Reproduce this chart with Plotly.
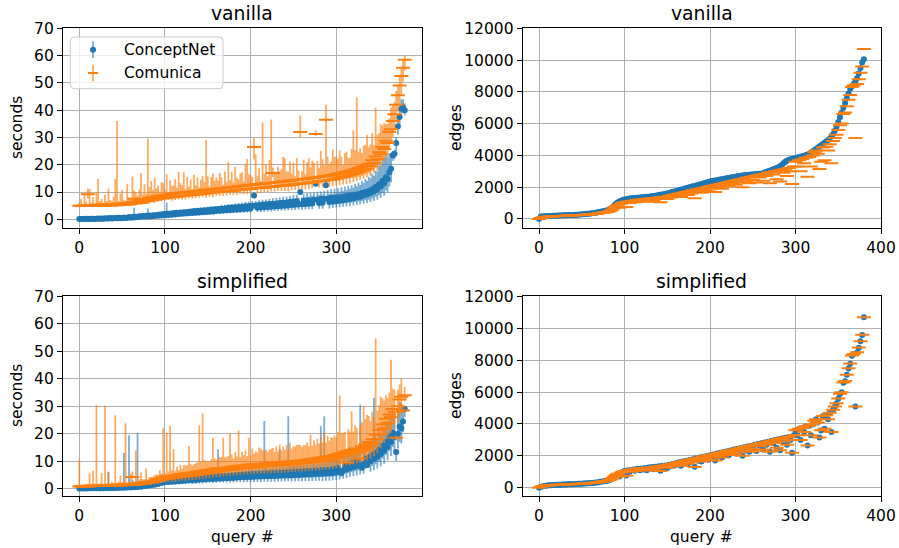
import plotly.graph_objects as go

# ---------------- data (query # on x, step 2) ----------------
QUERY = list(range(0, 381, 2))

# vanilla, ConceptNet, seconds (value, upper err, lower err)
VAN_CN_SEC = [
    0.1,0.1,0.1,0.2,0.1,0.2,0.1,0.2,0.2,0.1,
    0.2,0.3,0.2,0.3,0.2,0.4,0.3,0.3,0.5,0.3,
    0.4,0.5,0.4,0.6,0.4,0.5,0.7,0.5,0.6,0.8,
    0.6,0.8,0.7,0.9,0.8,1.1,0.9,1.2,1.0,1.3,
    1.0,1.4,1.1,1.5,1.2,1.6,1.3,1.8,1.4,1.9,
    1.5,2.0,1.6,2.1,1.7,2.3,1.8,2.4,1.9,2.5,
    2.0,2.6,2.1,2.7,2.2,2.9,2.3,3.0,2.4,3.1,
    2.5,3.2,2.6,3.3,2.7,3.4,2.8,3.6,2.9,3.7,
    3.0,3.8,3.1,3.9,3.2,4.0,3.3,4.2,3.4,4.3,
    3.5,4.4,3.6,4.5,3.7,4.6,3.8,4.8,3.9,4.9,
    4.0,5.0,8.7,5.1,4.2,5.2,4.3,5.4,4.4,5.5,
    4.5,5.6,4.6,5.7,4.7,5.8,4.8,6.0,4.9,6.1,
    5.0,6.2,5.1,6.3,5.2,6.4,5.3,6.6,5.4,10.0,
    5.5,6.8,5.6,6.9,5.7,7.0,5.8,7.2,13.0,7.3,
    6.0,7.4,6.1,7.5,12.5,7.6,6.3,7.8,6.4,7.9,
    6.6,8.0,6.8,8.2,7.0,8.4,7.2,8.6,7.4,8.8,
    7.7,9.0,8.0,9.3,8.3,9.6,8.7,10.0,9.1,10.4,
    9.6,11.0,10.2,11.8,11.0,12.8,12.0,14.0,13.2,15.4,
    14.8,17.2,18.5,23.5,24.0,28.0,34.0,37.5,40.5,41.0,
    40.0]
VAN_CN_SEC_HI = [
    0.2,0.3,0.2,0.2,0.3,0.2,0.2,0.3,0.2,0.2,
    0.3,0.2,0.3,0.2,0.3,0.3,0.2,0.3,0.3,0.2,
    0.3,0.3,0.3,0.4,0.3,0.3,0.4,0.3,0.4,0.3,
    0.4,0.5,3.5,0.4,0.5,0.4,0.5,0.6,0.5,0.5,
    3.0,0.5,0.6,0.5,0.6,0.7,0.6,0.6,0.7,0.6,
    0.7,4.2,0.7,0.8,0.7,0.8,0.8,0.7,0.8,0.9,
    0.8,0.9,0.8,0.9,1.0,0.9,0.9,1.0,1.0,0.9,
    1.0,1.0,1.1,1.0,1.1,1.2,1.0,1.1,1.2,1.1,
    1.2,1.1,1.2,1.3,1.2,1.3,1.2,1.3,1.4,1.3,
    1.4,1.3,1.4,1.5,1.4,1.5,1.6,1.5,1.6,1.5,
    1.6,1.7,0.6,1.6,1.7,1.8,1.7,1.8,1.9,1.8,
    1.9,1.8,1.9,2.0,1.9,2.0,2.1,2.0,2.1,2.2,
    2.1,2.2,2.3,2.2,2.3,2.4,2.3,2.4,2.5,0.8,
    2.5,2.6,2.5,2.7,2.6,2.7,2.8,2.7,1.5,2.8,
    2.9,2.8,3.0,2.9,1.2,3.1,3.0,3.2,3.0,3.3,
    3.2,3.4,3.3,3.5,3.4,3.6,3.5,3.7,3.8,3.7,
    3.9,4.0,4.1,4.2,4.3,4.5,4.6,4.8,5.0,5.2,
    5.4,5.6,5.8,6.0,6.5,7.0,7.5,8.0,9.5,8.5,
    8.0,7.0,5.0,1.5,1.5,2.0,3.0,3.5,3.5,3.0,
    2.5]
VAN_CN_SEC_LO = [
    0.1,0.1,0.1,0.1,0.1,0.1,0.1,0.1,0.1,0.1,
    0.1,0.1,0.1,0.1,0.1,0.1,0.1,0.2,0.2,0.2,
    0.2,0.2,0.2,0.2,0.2,0.2,0.3,0.3,0.3,0.3,
    0.3,0.3,0.3,0.3,0.4,0.4,0.4,0.4,0.4,0.4,
    0.5,0.5,0.5,0.5,0.5,0.5,0.6,0.6,0.6,0.6,
    0.6,0.6,0.7,0.7,0.7,0.7,0.7,0.7,0.8,0.8,
    0.8,0.8,0.8,0.8,0.9,0.9,0.9,0.9,0.9,0.9,
    1.0,1.0,1.0,1.0,1.0,1.0,1.1,1.1,1.1,1.1,
    1.1,1.1,1.2,1.2,1.2,1.2,1.2,1.2,1.3,1.3,
    1.3,1.3,1.3,1.3,1.4,1.4,1.4,1.4,1.4,1.4,
    1.5,1.5,0.5,1.5,1.5,1.5,1.6,1.6,1.6,1.6,
    1.6,1.6,1.7,1.7,1.7,1.7,1.7,1.7,1.8,1.8,
    1.8,1.8,1.8,1.8,1.9,1.9,1.9,1.9,1.9,0.6,
    2.0,2.0,2.0,2.0,2.0,2.0,2.1,2.1,0.8,2.1,
    2.1,2.1,2.2,2.2,0.8,2.2,2.3,2.3,2.3,2.3,
    2.3,2.3,2.4,2.4,2.4,2.5,2.5,2.5,2.6,2.6,
    2.6,2.7,2.7,2.8,2.8,2.9,3.0,3.0,3.1,3.2,
    3.3,3.4,3.5,3.6,3.8,4.0,4.2,4.4,4.6,4.8,
    5.0,5.2,5.0,2.0,2.0,3.0,3.0,3.0,2.5,2.0,
    2.0]

# vanilla, Comunica, seconds
VAN_CO_SEC = [
    5.0,5.0,4.9,5.1,5.0,9.2,5.1,5.0,5.2,5.1,
    5.0,5.3,5.1,5.4,5.2,5.0,5.5,5.2,5.1,5.6,
    5.3,5.1,5.7,5.2,5.4,5.8,5.3,5.5,6.0,5.4,
    5.6,6.3,7.5,5.8,6.6,6.0,7.0,6.2,6.8,7.4,
    6.6,7.8,7.0,8.2,7.2,8.4,7.4,8.6,7.6,8.8,
    7.8,9.0,8.0,9.2,8.1,9.4,8.3,9.6,8.4,9.7,
    8.5,9.8,8.7,10.0,8.8,10.1,9.0,10.3,9.1,10.4,
    9.2,10.5,9.4,10.7,9.5,10.8,9.7,11.0,9.8,11.1,
    9.9,11.2,10.0,11.4,10.2,11.5,10.3,11.7,10.4,11.8,
    10.5,11.9,10.7,12.1,10.8,12.2,10.9,12.4,11.0,12.5,
    11.1,12.6,26.5,12.8,11.4,12.9,11.5,13.1,11.6,13.2,
    11.8,13.3,11.9,17.0,12.0,13.6,12.2,13.7,12.3,13.9,
    12.4,14.0,12.5,14.2,12.7,14.3,12.8,14.5,12.9,32.0,
    13.1,14.8,13.2,14.9,13.4,15.1,13.5,15.2,31.3,15.4,
    13.9,15.6,14.0,15.8,36.5,16.0,14.4,16.2,14.6,16.4,
    14.9,16.7,15.2,17.0,15.5,17.3,15.8,17.6,16.1,17.9,
    16.6,18.3,17.0,18.8,17.5,19.3,18.0,19.8,18.6,20.4,
    19.4,21.6,20.6,23.0,22.0,24.6,23.8,26.5,25.8,28.8,
    28.0,32.0,33.0,36.0,38.5,42.0,45.5,49.0,52.5,55.5,
    58.5]
VAN_CO_SEC_HI = [
    1.0,2.5,0.8,4.0,1.5,2.0,6.0,1.2,3.0,0.8,
    5.0,9.6,1.5,2.0,0.9,4.0,1.2,6.0,2.0,1.0,
    3.0,9.6,30.3,1.5,4.0,5.0,2.0,1.3,7.0,2.5,
    1.5,9.3,3.0,4.0,2.0,5.0,10.0,3.0,6.0,2.0,
    23.0,4.0,7.0,2.5,8.0,3.0,5.0,1.5,6.0,4.5,
    3.0,7.5,2.0,5.0,4.0,3.0,6.5,2.0,9.0,3.5,
    4.0,7.4,2.5,5.5,3.0,4.5,2.0,6.0,3.5,5.0,
    2.5,4.0,6.5,3.0,19.6,5.0,2.5,4.5,7.0,3.0,
    5.5,3.0,7.0,4.0,2.5,6.0,3.5,9.2,4.0,5.5,
    3.0,7.3,4.5,2.5,6.0,5.0,3.0,8.0,11.1,4.0,
    5.0,3.0,3.5,11.0,4.5,6.0,2.5,22.4,5.0,7.0,
    4.0,8.5,24.7,2.0,5.5,3.5,7.0,4.0,6.0,9.0,
    10.0,3.5,5.0,7.0,4.0,6.5,3.0,8.0,5.0,6.0,
    4.5,7.0,3.5,6.0,9.0,4.0,8.0,5.5,1.2,6.0,
    5.0,9.5,8.0,4.0,5.5,7.0,6.0,5.0,11.0,6.5,
    8.0,5.5,10.0,6.0,4.5,7.0,9.0,5.0,6.5,8.0,
    16.0,7.0,27.7,6.0,8.5,5.0,9.0,7.5,12.4,6.0,
    8.0,10.0,6.5,18.0,9.0,7.0,11.0,8.0,9.5,6.0,
    7.0,5.0,8.0,6.0,4.5,5.0,3.5,4.0,3.0,2.5,
    1.5]
VAN_CO_SEC_LO = [
    0.3,0.4,0.3,0.5,0.3,1.5,0.4,0.3,0.6,0.3,
    0.4,0.5,0.3,0.4,0.6,0.3,0.5,0.4,0.3,0.5,
    0.4,0.6,0.5,0.3,0.5,0.4,0.6,0.3,0.5,0.4,
    0.5,0.6,1.0,0.5,0.7,0.6,0.8,0.5,0.7,0.9,
    0.8,1.0,0.7,0.9,1.1,0.8,1.0,1.2,0.9,1.1,
    1.0,1.2,0.9,1.1,1.3,1.0,1.2,1.4,1.1,1.3,
    1.2,1.0,1.4,1.2,1.1,1.3,1.5,1.2,1.4,1.3,
    1.3,1.5,1.2,1.4,1.6,1.3,1.5,1.4,1.7,1.5,
    1.4,1.6,1.5,1.3,1.7,1.5,1.6,1.8,1.4,1.6,
    1.7,1.5,1.8,1.6,1.4,1.9,1.7,1.6,1.8,1.5,
    1.8,1.6,4.5,1.7,1.9,1.6,1.8,2.0,1.7,1.9,
    1.8,2.0,1.7,1.5,1.9,2.1,1.8,2.0,1.9,2.2,
    2.0,1.8,2.2,2.1,1.9,2.3,2.0,2.2,2.1,2.0,
    2.2,2.0,2.3,2.1,2.4,2.2,2.0,2.3,0.8,2.4,
    2.2,2.5,2.3,2.1,20.0,2.4,2.6,2.3,2.5,2.4,
    2.6,2.4,2.7,2.5,2.8,2.6,2.9,2.7,3.0,2.8,
    3.0,3.2,2.9,3.3,3.1,3.4,3.2,3.5,3.3,3.6,
    3.5,3.8,3.6,4.0,4.2,4.0,4.5,4.3,4.8,5.0,
    5.0,5.5,5.2,6.0,5.5,6.5,6.0,7.0,6.5,5.0,
    4.0]

# simplified, ConceptNet, seconds
SIM_CN_SEC = [
    0.0,0.1,0.0,0.1,0.0,0.1,0.1,0.2,0.1,0.2,
    0.1,0.2,0.1,0.2,0.1,0.3,0.2,0.3,0.2,0.3,
    0.2,0.4,0.2,0.4,0.3,0.5,0.3,0.5,0.4,0.6,
    0.4,0.7,0.5,0.8,0.6,0.9,0.7,1.0,0.9,1.2,
    1.0,1.4,1.2,1.6,1.4,1.9,1.7,2.3,2.0,2.7,
    2.3,3.0,2.4,3.1,2.5,3.2,2.6,3.3,2.7,3.4,
    2.8,3.5,2.9,3.6,3.0,3.7,3.0,3.8,3.1,3.9,
    3.2,4.0,3.3,4.1,3.4,4.2,3.5,4.3,3.5,4.4,
    3.6,4.5,3.7,4.6,3.8,4.6,3.8,4.7,3.9,4.8,
    3.9,4.9,4.0,5.0,4.1,5.0,4.1,5.1,4.2,5.2,
    4.2,5.3,4.3,5.3,4.4,5.4,4.4,5.5,4.5,5.6,
    4.5,5.6,4.6,5.7,4.6,5.8,4.7,5.8,4.8,5.9,
    4.8,6.0,4.9,6.0,4.9,6.1,5.0,6.2,5.0,6.2,
    5.1,6.3,5.1,6.4,5.2,6.4,5.3,6.5,5.3,6.6,
    5.4,6.7,5.4,6.8,5.5,6.9,5.6,7.0,5.7,7.2,
    5.9,7.6,6.2,5.6,6.6,8.4,7.0,8.8,7.4,9.2,
    7.8,9.6,8.2,10.0,8.6,7.6,9.0,10.8,8.6,11.4,
    10.0,12.2,10.8,13.1,11.6,14.2,12.6,15.6,13.8,17.0,
    15.2,18.8,17.0,20.4,18.8,13.3,20.0,22.6,22.0,24.5,
    29.0]
SIM_CN_SEC_HI = [
    0.2,0.3,0.2,0.2,0.3,0.2,0.2,0.3,0.2,0.3,
    0.2,0.3,0.3,0.2,0.3,0.3,0.4,5.8,0.3,0.4,
    0.3,0.4,0.4,0.3,0.4,0.4,12.7,0.4,0.5,18.8,
    0.5,2.5,0.5,0.6,19.8,0.6,0.7,0.6,0.7,0.8,
    0.8,0.7,0.9,0.8,1.0,0.9,1.0,1.1,3.5,1.0,
    1.1,1.0,1.2,1.1,1.2,2.5,1.2,1.3,1.2,1.3,
    1.3,1.4,1.3,1.4,1.5,1.4,1.5,1.4,1.6,1.5,
    1.5,1.6,1.5,1.7,1.6,1.7,1.6,1.8,1.7,1.8,
    1.8,9.8,1.9,1.8,2.0,1.9,2.0,2.1,2.0,2.1,
    2.1,2.2,2.1,2.3,2.2,2.3,2.4,2.3,2.4,2.5,
    2.4,2.5,2.6,2.5,2.6,2.7,2.6,2.7,20.1,2.8,
    2.7,2.8,2.9,2.8,2.9,3.0,2.9,8.5,3.0,3.1,
    3.0,3.1,21.5,3.1,3.2,3.3,3.2,3.3,3.4,3.3,
    3.4,3.5,3.4,3.5,3.6,3.5,3.6,3.7,3.6,3.7,
    3.8,16.0,3.8,19.6,3.9,4.0,3.9,4.0,4.1,4.2,
    4.2,4.3,4.4,2.0,4.6,4.7,4.8,4.9,5.0,5.1,
    5.2,5.3,5.4,5.5,22.0,1.5,5.8,5.9,1.5,6.1,
    6.2,6.3,22.2,6.5,6.6,6.8,7.0,7.2,7.4,7.6,
    7.8,8.0,8.2,8.4,8.6,1.0,8.8,9.0,9.2,5.0,
    1.0]
SIM_CN_SEC_LO = [
    0.1,0.1,0.1,0.1,0.1,0.1,0.1,0.1,0.1,0.1,
    0.1,0.1,0.1,0.1,0.1,0.1,0.2,0.2,0.2,0.2,
    0.2,0.2,0.2,0.2,0.2,0.2,0.2,0.3,0.3,0.3,
    0.3,0.3,0.3,0.3,0.4,0.4,0.4,0.4,0.5,0.5,
    0.5,0.5,0.6,0.6,0.6,0.7,0.7,0.8,0.8,0.9,
    0.9,0.9,1.0,1.0,1.0,1.0,1.1,1.1,1.1,1.1,
    1.1,1.2,1.2,1.2,1.2,1.2,1.3,1.3,1.3,1.3,
    1.3,1.3,1.4,1.4,1.4,1.4,1.4,1.5,1.5,1.5,
    1.5,1.5,1.5,1.6,1.6,1.6,1.6,1.6,1.7,1.7,
    1.7,1.7,1.7,1.7,1.8,1.8,1.8,1.8,1.8,1.9,
    1.9,1.9,1.9,1.9,1.9,2.0,2.0,2.0,2.0,2.0,
    2.0,2.1,2.1,2.1,2.1,2.1,2.1,2.2,2.2,2.2,
    2.2,2.2,2.2,2.3,2.3,2.3,2.3,2.3,2.3,2.4,
    2.4,2.4,2.4,2.4,2.4,2.5,2.5,2.5,2.5,2.5,
    2.5,2.6,2.6,2.6,2.6,2.6,2.7,2.7,2.7,2.7,
    2.8,2.8,2.9,0.8,3.0,3.0,3.1,3.1,3.2,3.2,
    3.3,3.3,3.4,3.4,3.5,0.8,3.6,3.6,0.9,3.8,
    3.9,4.0,4.1,4.2,4.3,4.4,4.5,4.6,4.7,4.8,
    4.9,5.0,5.1,5.2,5.3,3.2,5.4,5.5,5.6,4.0,
    3.0]

# simplified, Comunica, seconds
SIM_CO_SEC = [
    0.8,0.9,0.7,0.9,0.8,1.0,0.8,1.0,0.9,1.1,
    0.9,1.1,0.9,1.2,1.0,1.2,1.0,1.3,1.1,1.3,
    1.1,1.4,1.1,1.4,1.2,1.5,1.2,1.6,1.3,1.7,
    1.3,4.2,1.4,1.8,1.5,2.0,1.7,2.2,1.9,2.4,
    2.0,2.6,2.2,2.9,2.5,3.3,2.8,3.7,3.2,4.1,
    3.5,4.4,3.7,4.6,3.9,4.8,4.0,5.0,4.2,5.2,
    4.4,5.4,4.5,5.6,4.7,5.8,4.8,6.0,5.0,6.2,
    5.2,6.4,5.4,6.6,5.6,6.8,5.8,7.0,6.0,7.2,
    6.2,7.4,6.4,7.5,6.6,7.6,6.8,7.8,6.9,8.0,
    7.0,8.1,7.2,8.3,7.3,8.4,7.5,8.5,7.6,8.7,
    7.7,8.8,7.8,8.9,7.9,9.0,8.0,9.1,8.1,9.2,
    8.2,9.3,8.3,9.4,8.4,9.5,8.5,9.6,8.6,9.7,
    8.7,9.8,8.8,9.9,8.9,10.0,9.0,10.1,9.1,10.2,
    9.2,10.4,9.3,10.6,9.5,10.7,9.6,10.9,9.8,11.1,
    9.9,11.3,10.1,11.5,10.3,11.7,10.5,11.9,10.7,12.2,
    11.0,12.6,11.4,13.0,11.8,13.4,9.5,13.8,12.4,14.2,
    12.8,14.6,13.2,11.0,13.6,15.4,14.2,16.2,14.8,17.0,
    15.6,18.0,16.6,19.6,18.0,21.4,20.0,23.4,22.0,25.5,
    24.0,27.0,26.0,29.0,28.0,18.5,30.0,32.5,33.5,28.5,
    34.0]
SIM_CO_SEC_HI = [
    9.7,0.5,0.8,0.4,1.0,0.6,4.8,0.5,5.6,0.7,
    29.6,0.6,1.0,4.5,0.7,29.0,0.9,4.7,0.6,1.2,
    0.8,25.3,0.9,1.1,3.7,0.8,1.3,22.2,1.0,0.9,
    4.1,2.0,1.2,12.1,1.0,1.4,4.2,1.3,1.5,4.9,
    1.4,1.6,2.0,1.5,2.5,1.8,2.2,3.0,2.0,17.9,
    2.2,16.0,2.5,18.3,2.8,9.6,2.4,3.0,2.6,3.5,
    2.8,3.2,4.0,2.9,10.8,3.3,3.6,3.0,4.2,3.4,
    17.9,3.5,22.0,3.8,4.5,3.2,4.0,3.7,12.4,3.9,
    4.2,3.6,5.0,4.0,11.9,3.8,4.6,4.1,13.1,4.4,
    4.0,5.2,4.5,12.9,4.2,5.0,4.7,5.5,4.3,9.8,
    4.5,5.8,4.9,4.6,5.3,6.0,6.5,4.8,5.5,5.0,
    5.2,4.9,6.2,5.4,5.0,5.8,5.0,6.5,5.3,5.6,
    5.5,6.0,5.2,6.8,5.7,5.4,6.3,5.8,7.0,5.6,
    6.0,5.5,6.5,6.2,5.8,8.9,6.0,6.6,6.3,7.0,
    6.5,7.2,6.8,9.1,6.4,7.5,7.0,6.8,7.8,7.2,
    7.5,8.0,22.6,7.2,8.5,7.2,1.0,7.8,8.4,14.0,
    8.0,8.5,9.0,1.0,9.5,8.8,16.0,9.2,12.0,9.5,
    9.0,10.0,9.5,35.2,10.5,9.0,13.5,9.5,10.0,8.5,
    9.0,8.0,21.0,7.5,8.0,1.0,6.0,5.5,6.5,1.5,
    3.0]
SIM_CO_SEC_LO = [
    0.3,0.3,0.3,0.3,0.3,0.3,0.3,0.3,0.3,0.3,
    0.3,0.4,0.3,0.4,0.3,0.4,0.4,0.4,0.4,0.4,
    0.4,0.4,0.4,0.5,0.4,0.5,0.5,0.5,0.5,0.5,
    0.5,0.8,0.5,0.6,0.6,0.6,0.7,0.7,0.7,0.8,
    0.8,0.8,0.9,0.9,1.0,1.0,1.1,1.1,1.2,1.2,
    1.2,1.3,1.3,1.3,1.4,1.4,1.4,1.5,1.5,1.5,
    1.5,1.6,1.6,1.6,1.7,1.7,1.7,1.7,1.8,1.8,
    1.8,1.8,1.9,1.9,1.9,1.9,2.0,2.0,2.0,2.0,
    2.0,2.1,2.1,2.1,2.1,2.1,2.2,2.2,2.2,2.2,
    2.2,2.3,2.3,2.3,2.3,2.3,2.4,2.4,2.4,2.4,
    2.4,2.4,2.5,2.5,2.5,2.5,2.5,2.6,2.6,2.6,
    2.6,2.6,2.6,2.7,2.7,2.7,2.7,2.7,2.8,2.8,
    2.8,2.8,2.8,2.8,2.9,2.9,2.9,2.9,2.9,3.0,
    3.0,3.0,3.0,3.0,3.1,3.1,3.1,3.1,3.2,3.2,
    3.2,3.2,3.3,3.3,3.3,3.4,3.4,3.4,3.5,3.5,
    3.5,3.6,3.6,3.7,3.7,3.8,1.0,3.8,3.9,3.9,
    4.0,4.0,4.1,1.0,4.2,4.2,4.3,4.4,4.4,4.5,
    4.6,4.7,4.8,4.9,5.0,5.1,5.2,5.3,5.4,5.5,
    5.6,5.7,5.8,5.9,6.0,1.0,6.0,6.0,6.0,1.0,
    2.0]

# edges
VAN_CN_EDGES = [
    0,150,160,170,175,180,185,190,195,200,
    205,210,215,220,225,230,235,240,245,250,
    255,260,265,270,280,290,300,310,320,330,
    345,360,375,390,410,430,450,470,495,520,
    550,590,640,720,850,950,1030,1100,1150,1190,
    1220,1240,1260,1280,1300,1310,1320,1330,1340,1350,
    1360,1370,1380,1390,1400,1410,1420,1440,1460,1480,
    1500,1520,1540,1560,1580,1600,1630,1660,1690,1720,
    1750,1780,1810,1840,1870,1900,1930,1960,1990,2020,
    2050,2080,2110,2140,2170,2200,2230,2260,2290,2320,
    2350,2380,2400,2420,2440,2460,2480,2500,2520,2540,
    2560,2580,2600,2620,2640,2660,2680,2700,2720,2740,
    2750,2760,2770,2780,2790,2800,2810,2820,2830,2840,
    2850,2880,2920,2960,3000,3040,3080,3120,3160,3200,
    3260,3320,3400,3500,3600,3660,3710,3750,3780,3800,
    3830,3860,3890,3920,3950,3980,4010,4050,4100,4160,
    4240,4320,4400,4480,4560,4640,4720,4800,4880,4960,
    5050,5200,5350,5550,5800,6100,6400,6700,7000,7300,
    7600,7900,8200,8350,8500,8650,8850,9150,9500,9850,
    10050]
CO_EDGES = [
    0,60,90,110,130,140,150,155,160,170,
    175,180,185,190,195,200,205,210,215,220,
    225,230,235,240,245,250,255,260,270,280,
    290,300,310,320,330,350,370,390,400,420,
    440,480,520,600,700,800,870,700,950,1000,
    1050,750,1100,1000,1120,1150,1050,1180,1200,1100,
    1220,1150,1250,1080,1270,1200,1300,1150,1320,1250,
    1350,1050,1380,1300,1400,1250,1450,1350,1500,1400,
    1550,1450,1600,1380,1650,1550,1700,1500,1750,1600,
    1800,1300,1850,1700,1900,1650,1950,1800,2000,1750,
    2050,1900,2100,1700,2150,2000,2200,1900,2250,2100,
    2300,2050,2350,2200,2400,2150,2450,2300,2500,2000,
    2550,2350,2600,2250,2650,2450,2700,2300,2750,2600,
    2800,2400,2850,2700,2900,2250,2950,2800,3000,2500,
    3050,2350,3100,2900,3150,2700,3200,3000,2200,3300,
    3600,3300,3700,3000,3750,3500,3850,2650,3900,3300,
    4000,4200,4300,4100,3150,3600,4500,3700,4550,4300,
    4700,3500,4900,5100,5300,5600,5900,6000,6600,6700,
    7100,7500,7800,8300,8400,5100,8500,8800,9200,9600,
    10700]
SIM_CN_EDGES = [
    0,50,80,110,120,140,150,150,160,170,
    170,180,180,190,200,200,200,210,210,220,
    220,230,230,240,250,250,260,260,270,280,
    290,300,300,320,330,340,370,380,400,420,
    430,470,520,590,690,800,860,700,940,1000,
    1040,760,1090,1000,1110,1140,1060,1170,1190,1100,
    1210,1140,1240,1090,1260,1200,1290,1150,1310,1240,
    1340,1060,1370,1300,1390,1240,1440,1350,1490,1390,
    1540,1450,1590,1370,1640,1540,1690,1500,1740,1590,
    1790,1310,1840,1690,1890,1650,1940,1790,1990,1750,
    2040,1890,2090,1700,2140,1990,2190,1900,2240,2090,
    2290,2040,2340,2190,2390,2150,2440,2290,2490,2010,
    2540,2340,2590,2250,2640,2440,2690,2300,2740,2590,
    2790,2400,2840,2690,2890,2250,2940,2790,2990,2500,
    3040,2350,3090,2890,3140,2700,3190,2990,2200,3290,
    3590,3300,3690,3000,3740,3490,3840,2650,3890,3300,
    3990,4190,4290,4100,3150,3590,4490,3700,4540,4290,
    4690,3500,4890,5090,5290,5590,5890,5990,6590,6690,
    7090,7490,7790,8290,8390,5100,8490,8790,9190,9590,
    10700]

TITLES = ["vanilla", "vanilla", "simplified", "simplified"]
SERIES = ["ConceptNet", "Comunica"]

for arr in [VAN_CN_SEC, VAN_CN_SEC_HI, VAN_CN_SEC_LO, VAN_CO_SEC, VAN_CO_SEC_HI,
            VAN_CO_SEC_LO, SIM_CN_SEC, SIM_CN_SEC_HI, SIM_CN_SEC_LO, SIM_CO_SEC,
            SIM_CO_SEC_HI, SIM_CO_SEC_LO, VAN_CN_EDGES, CO_EDGES, SIM_CN_EDGES]:
    assert len(arr) == len(QUERY), len(arr)

# ---------------- styling ----------------
W, H = 899, 548
BLUE = "#1f77b4"
ORANGE = "#ff7f0e"
BLUE_E = "rgba(31,119,180,0.6)"
ORANGE_E = "rgba(255,127,14,0.65)"
FONT = "DejaVu Sans"


def px(x):
    return x / W


def py(y):
    return 1 - y / H


fig = go.Figure()


def sec_panel(xa, ya, cn, cn_hi, cn_lo, co, co_hi, co_lo):
    fig.add_trace(go.Scatter(
        x=QUERY, y=cn, mode="markers", xaxis=xa, yaxis=ya, showlegend=False,
        name=SERIES[0], hoverinfo="skip",
        marker=dict(color=BLUE, size=6, line=dict(width=0)),
        error_y=dict(type="data", symmetric=False, array=cn_hi, arrayminus=cn_lo,
                     color=BLUE_E, thickness=1.8, width=0)))
    fig.add_trace(go.Scatter(
        x=QUERY, y=co, mode="markers", xaxis=xa, yaxis=ya, showlegend=False,
        name=SERIES[1], hoverinfo="skip",
        marker=dict(symbol="line-ew", color=ORANGE, size=10,
                    line=dict(color=ORANGE, width=2)),
        error_y=dict(type="data", symmetric=False, array=co_hi, arrayminus=co_lo,
                     color=ORANGE_E, thickness=1.8, width=0)))


def edge_panel(xa, ya, cn, co):
    fig.add_trace(go.Scatter(
        x=QUERY, y=cn, mode="markers", xaxis=xa, yaxis=ya, showlegend=False,
        name=SERIES[0], hoverinfo="skip",
        marker=dict(color=BLUE, size=6, line=dict(width=0))))
    fig.add_trace(go.Scatter(
        x=QUERY, y=co, mode="markers", xaxis=xa, yaxis=ya, showlegend=False,
        name=SERIES[1], hoverinfo="skip",
        marker=dict(symbol="line-ew", color=ORANGE, size=10,
                    line=dict(color=ORANGE, width=2))))


sec_panel("x", "y", VAN_CN_SEC, VAN_CN_SEC_HI, VAN_CN_SEC_LO,
          VAN_CO_SEC, VAN_CO_SEC_HI, VAN_CO_SEC_LO)
edge_panel("x2", "y2", VAN_CN_EDGES, CO_EDGES)
sec_panel("x3", "y3", SIM_CN_SEC, SIM_CN_SEC_HI, SIM_CN_SEC_LO,
          SIM_CO_SEC, SIM_CO_SEC_HI, SIM_CO_SEC_LO)
edge_panel("x4", "y4", SIM_CN_EDGES, CO_EDGES)

LX = [px(63), px(421.7)]
RX = [px(522.7), px(881)]
TY = [py(228.3), py(28.3)]
BY = [py(496), py(296)]

axis_common = dict(
    showline=True, linecolor="black", linewidth=1.1, mirror=True,
    ticks="outside", ticklen=5, tickwidth=1.1, tickcolor="black",
    showgrid=True, gridcolor="#b0b0b0", gridwidth=1, zeroline=False,
    automargin=False,
    tickfont=dict(family=FONT, size=15.5, color="black"),
)

fig.update_layout(
    width=W, height=H, margin=dict(l=0, r=0, t=0, b=0, autoexpand=False),
    paper_bgcolor="white", plot_bgcolor="white",
    font=dict(family=FONT, color="black"),
    xaxis=dict(domain=LX, anchor="y", range=[-19.05, 399.8],
               tickvals=[0, 100, 200, 300], **axis_common),
    yaxis=dict(domain=TY, anchor="x", range=[-3.3, 70.0], dtick=10, **axis_common),
    xaxis2=dict(domain=RX, anchor="y2", range=[-19.1, 400], dtick=100, **axis_common),
    yaxis2=dict(domain=TY, anchor="x2", range=[-590, 12000], dtick=2000,
                tickformat="d", **axis_common),
    xaxis3=dict(domain=LX, anchor="y3", range=[-19.05, 399.8],
                tickvals=[0, 100, 200, 300], **axis_common),
    yaxis3=dict(domain=BY, anchor="x3", range=[-2.7, 70.2], dtick=10, **axis_common),
    xaxis4=dict(domain=RX, anchor="y4", range=[-19.1, 400], dtick=100, **axis_common),
    yaxis4=dict(domain=BY, anchor="x4", range=[-524, 12040], dtick=2000,
                tickformat="d", **axis_common),
)

ann = []
# titles
for (cx, cy), t in zip([(242.3, 13.5), (701.8, 13.5), (242.3, 281.5), (701.8, 281.5)], TITLES):
    ann.append(dict(x=px(cx), y=py(cy), xref="paper", yref="paper", text=t,
                    showarrow=False, xanchor="center", yanchor="middle",
                    font=dict(family=FONT, size=18.8, color="black")))
# axis labels
for cx, cy, t in [(17, 128, "seconds"), (17, 396, "seconds"),
                  (456, 128, "edges"), (456, 396, "edges")]:
    ann.append(dict(x=px(cx), y=py(cy), xref="paper", yref="paper", text=t,
                    showarrow=False, textangle=-90, xanchor="center", yanchor="middle",
                    font=dict(family=FONT, size=15.5, color="black")))
for cx in [242.3, 701.8]:
    ann.append(dict(x=px(cx), y=py(536.5), xref="paper", yref="paper", text="query #",
                    showarrow=False, xanchor="center", yanchor="middle",
                    font=dict(family=FONT, size=15.5, color="black")))
# legend text
for cy, t in [(49.7, SERIES[0]), (73.0, SERIES[1])]:
    ann.append(dict(x=px(121.5), y=py(cy), xref="paper", yref="paper", text=t,
                    showarrow=False, xanchor="left", yanchor="middle",
                    font=dict(family=FONT, size=15.5, color="black")))

# legend frame (rounded)
x0, y0, x1, y1, r = 70.3, 37.0, 223.0, 88.7, 4.0
path = (f"M {px(x0 + r)},{py(y0)} L {px(x1 - r)},{py(y0)} "
        f"Q {px(x1)},{py(y0)} {px(x1)},{py(y0 + r)} L {px(x1)},{py(y1 - r)} "
        f"Q {px(x1)},{py(y1)} {px(x1 - r)},{py(y1)} L {px(x0 + r)},{py(y1)} "
        f"Q {px(x0)},{py(y1)} {px(x0)},{py(y1 - r)} L {px(x0)},{py(y0 + r)} "
        f"Q {px(x0)},{py(y0)} {px(x0 + r)},{py(y0)} Z")
shapes = [
    dict(type="path", path=path, xref="paper", yref="paper",
         fillcolor="rgba(255,255,255,0.8)", line=dict(color="#cccccc", width=1)),
    # ConceptNet symbol
    dict(type="line", xref="paper", yref="paper", x0=px(93), x1=px(93),
         y0=py(41.3), y1=py(58), line=dict(color=BLUE_E, width=1.8)),
    dict(type="circle", xref="paper", yref="paper", x0=px(90), x1=px(96),
         y0=py(46.7), y1=py(52.7), fillcolor=BLUE, line=dict(width=0)),
    # Comunica symbol
    dict(type="line", xref="paper", yref="paper", x0=px(93), x1=px(93),
         y0=py(64.7), y1=py(81.3), line=dict(color=ORANGE_E, width=1.8)),
    dict(type="line", xref="paper", yref="paper", x0=px(88), x1=px(98),
         y0=py(73), y1=py(73), line=dict(color=ORANGE, width=2)),
]
fig.update_layout(annotations=ann, shapes=shapes)

fig.write_html(
    "out.html",
    config={"displayModeBar": False},
    post_script=("document.body.style.margin='0';"
                 "document.body.style.padding='0';"
                 "document.documentElement.style.overflow='hidden';"),
)
